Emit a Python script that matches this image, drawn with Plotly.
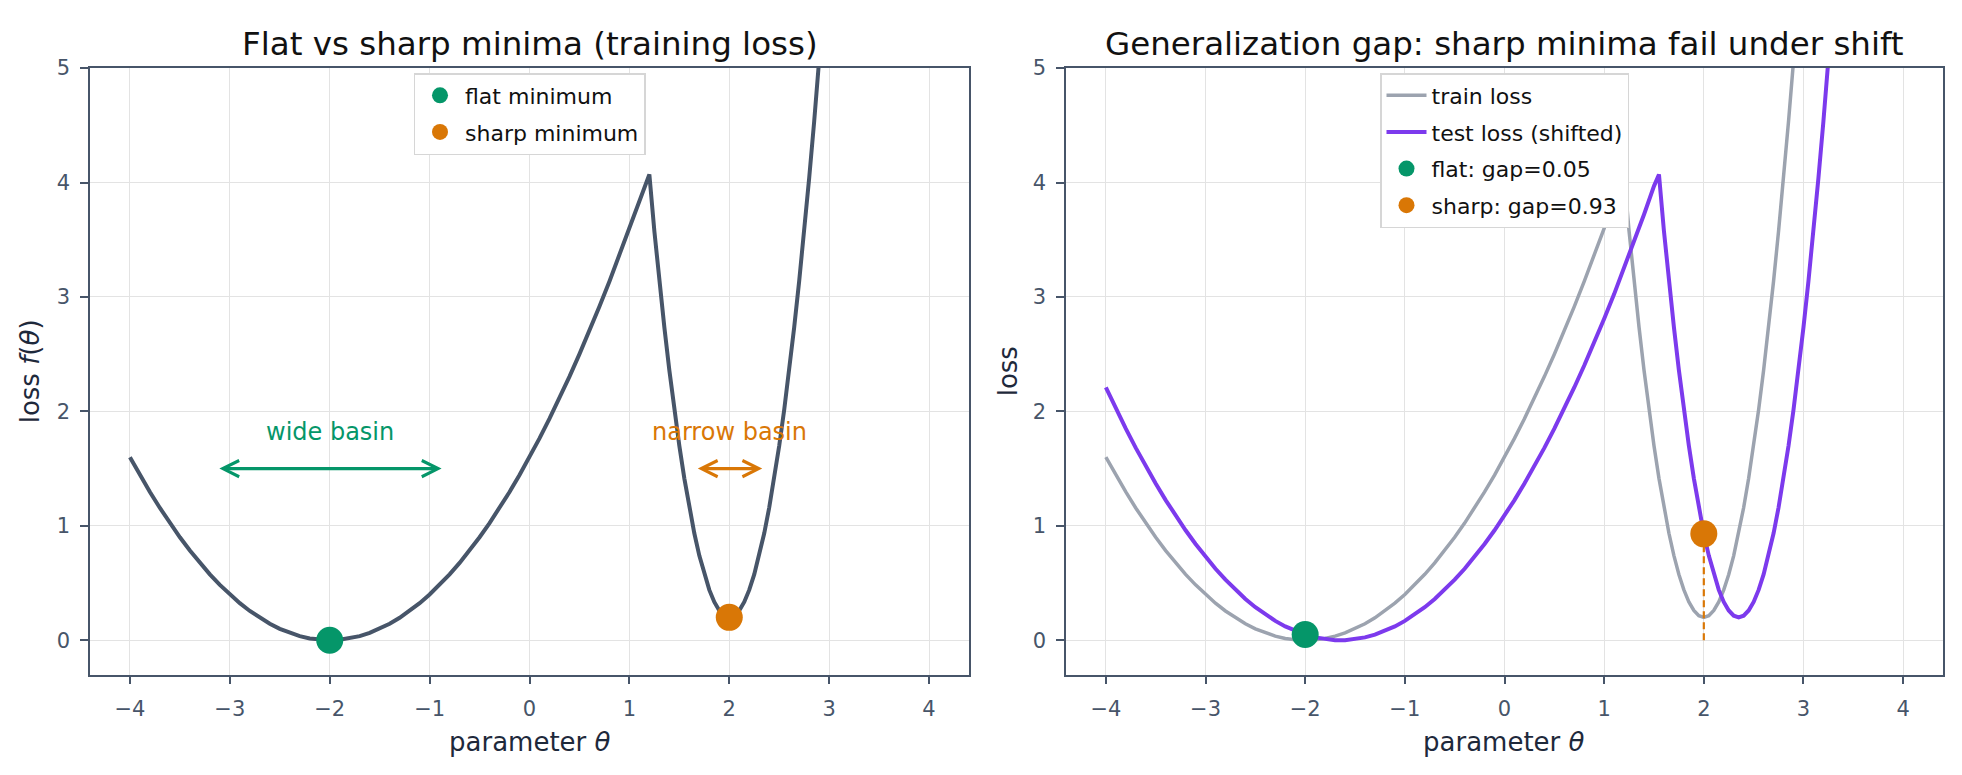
import plotly.graph_objects as go

# ---------------- data ----------------
theta_train = [-4.0, -3.9, -3.8, -3.7, -3.6, -3.5, -3.4, -3.3, -3.2, -3.1,
               -3.0, -2.9, -2.8, -2.7, -2.6, -2.5, -2.4, -2.3, -2.2, -2.1,
               -2.0, -1.9, -1.8, -1.7, -1.6, -1.5, -1.4, -1.3, -1.2, -1.1,
               -1.0, -0.9, -0.8, -0.7, -0.6, -0.5, -0.4, -0.3, -0.2, -0.1,
               0.0, 0.1, 0.2, 0.3, 0.4, 0.5, 0.6, 0.7, 0.8, 0.9, 1.0, 1.1, 1.2,
               1.25, 1.3, 1.35, 1.4, 1.45, 1.5, 1.55, 1.6, 1.65, 1.7, 1.75, 1.8,
               1.85, 1.9, 1.95, 2.0, 2.05, 2.1, 2.15, 2.2, 2.25, 2.3, 2.35, 2.4,
               2.45, 2.5, 2.55, 2.6, 2.65, 2.7, 2.75, 2.8, 2.85, 2.9, 2.95]
loss_train = [1.6, 1.444, 1.296, 1.156, 1.024, 0.9, 0.784, 0.676, 0.576, 0.484,
              0.4, 0.324, 0.256, 0.196, 0.144, 0.1, 0.064, 0.036, 0.016, 0.004,
              0.0, 0.004, 0.016, 0.036, 0.064, 0.1, 0.144, 0.196, 0.256, 0.324,
              0.4, 0.484, 0.576, 0.676, 0.784, 0.9, 1.024, 1.156, 1.296, 1.444,
              1.6, 1.764, 1.936, 2.116, 2.304, 2.5, 2.704, 2.916, 3.136, 3.364, 3.6, 3.844, 4.07,
              3.575, 3.14, 2.735, 2.36, 2.015, 1.7, 1.415, 1.16, 0.935, 0.74, 0.575, 0.44,
              0.335, 0.26, 0.215, 0.2, 0.215, 0.26, 0.335, 0.44, 0.575, 0.74, 0.935, 1.16,
              1.415, 1.7, 2.015, 2.36, 2.735, 3.14, 3.575, 4.04, 4.535, 5.06, 5.615]

theta_test = [-4.0, -3.9, -3.8, -3.7, -3.6, -3.5, -3.4, -3.3, -3.2, -3.1,
              -3.0, -2.9, -2.8, -2.7, -2.6, -2.5, -2.4, -2.3, -2.2, -2.1,
              -2.0, -1.9, -1.8, -1.7, -1.6, -1.5, -1.4, -1.3, -1.2, -1.1,
              -1.0, -0.9, -0.8, -0.7, -0.6, -0.5, -0.4, -0.3, -0.2, -0.1,
              0.0, 0.1, 0.2, 0.3, 0.4, 0.5, 0.6, 0.7, 0.8, 0.9, 1.0, 1.1, 1.2,
              1.3, 1.4, 1.5, 1.55, 1.6, 1.65, 1.7, 1.75, 1.8, 1.85, 1.9, 1.95,
              2.0, 2.05, 2.1, 2.15, 2.2, 2.25, 2.3, 2.35, 2.4, 2.45, 2.5, 2.55,
              2.6, 2.65, 2.7, 2.75, 2.8, 2.85, 2.9, 2.95, 3.0, 3.05, 3.1, 3.15,
              3.2, 3.25, 3.3]
loss_test = [2.209, 2.025, 1.849, 1.681, 1.521, 1.369, 1.225, 1.089, 0.961, 0.841,
             0.729, 0.625, 0.529, 0.441, 0.361, 0.289, 0.225, 0.169, 0.121, 0.081,
             0.049, 0.025, 0.009, 0.001, 0.001, 0.009, 0.025, 0.049, 0.081, 0.121,
             0.169, 0.225, 0.289, 0.361, 0.441, 0.529, 0.625, 0.729, 0.841, 0.961,
             1.089, 1.225, 1.369, 1.521, 1.681, 1.849, 2.025, 2.209, 2.401, 2.601, 2.809, 3.025, 3.249,
             3.481, 3.721, 3.969, 4.07, 3.575, 3.14, 2.735, 2.36, 2.015, 1.7, 1.415, 1.16,
             0.93, 0.74, 0.575, 0.44, 0.335, 0.26, 0.215, 0.2, 0.215, 0.26, 0.335, 0.44,
             0.575, 0.74, 0.935, 1.16, 1.415, 1.7, 2.015, 2.36, 2.735, 3.14, 3.575, 4.04,
             4.535, 5.06, 5.615]

flat_min = (-2.0, 0.0)
sharp_min = (2.0, 0.2)
flat_test = (-2.0, 0.05)
sharp_test = (2.0, 0.93)
wide_span = (-3.12, -0.88)
narrow_span = (1.67, 2.33)
basin_arrow_y = 1.5
basin_label_y = 1.68

x_ticks = [-4, -3, -2, -1, 0, 1, 2, 3, 4]
y_ticks = [0, 1, 2, 3, 4, 5]

titles = ["Flat vs sharp minima (training loss)",
          "Generalization gap: sharp minima fail under shift"]

# ---------------- style ----------------
FONT = "DejaVu Sans"
SLATE = "#475569"
GREEN = "#059669"
ORANGE = "#d97706"
PURPLE = "#7c3aed"
GREY = "#9ca3af"

W, H = 1962, 775
dom1 = [90 / W, 969 / W]
dom2 = [1066 / W, 1943 / W]
ydom = [1 - 673 / H, 1 - 57 / H]

fig = go.Figure()

# left panel
fig.add_trace(go.Scatter(x=theta_train, y=loss_train, mode="lines",
                         line=dict(color=SLATE, width=4), showlegend=False,
                         xaxis="x", yaxis="y"))
fig.add_trace(go.Scatter(x=[flat_min[0]], y=[flat_min[1]], mode="markers",
                         marker=dict(color=GREEN, size=27), name="flat minimum",
                         legend="legend", legendgroup="a", xaxis="x", yaxis="y", cliponaxis=False))
fig.add_trace(go.Scatter(x=[sharp_min[0]], y=[sharp_min[1]], mode="markers",
                         marker=dict(color=ORANGE, size=27), name="sharp minimum",
                         legend="legend", legendgroup="b", xaxis="x", yaxis="y", cliponaxis=False))

# right panel
fig.add_trace(go.Scatter(x=theta_train, y=loss_train, mode="lines",
                         line=dict(color=GREY, width=3.5), name="train loss",
                         legend="legend2", legendgroup="c", xaxis="x2", yaxis="y2"))
fig.add_trace(go.Scatter(x=theta_test, y=loss_test, mode="lines",
                         line=dict(color=PURPLE, width=4), name="test loss (shifted)",
                         legend="legend2", legendgroup="d", xaxis="x2", yaxis="y2"))
fig.add_trace(go.Scatter(x=[sharp_test[0], sharp_test[0]], y=[0, sharp_test[1]], mode="lines",
                         line=dict(color=ORANGE, width=2.2, dash="7px,4px"),
                         showlegend=False, xaxis="x2", yaxis="y2"))
fig.add_trace(go.Scatter(x=[flat_test[0]], y=[flat_test[1]], mode="markers",
                         marker=dict(color=GREEN, size=27),
                         name=f"flat: gap={flat_test[1]:.2f}",
                         legend="legend2", legendgroup="e", xaxis="x2", yaxis="y2", cliponaxis=False))
fig.add_trace(go.Scatter(x=[sharp_test[0]], y=[sharp_test[1]], mode="markers",
                         marker=dict(color=ORANGE, size=27),
                         name=f"sharp: gap={sharp_test[1]:.2f}",
                         legend="legend2", legendgroup="f", xaxis="x2", yaxis="y2", cliponaxis=False))

axis_common = dict(showline=True, linecolor=SLATE, linewidth=1.6, mirror=True,
                   ticks="outside", ticklen=8, tickwidth=1.6, tickcolor=SLATE,
                   showgrid=True, gridcolor="#e3e3e3", gridwidth=1, zeroline=False,
                   tickfont=dict(family=FONT, size=21, color=SLATE),
                   ticklabelstandoff=6)

legend_common = dict(xanchor="center", y=1 - 62 / H, yanchor="top",
                     bgcolor="white", bordercolor="#d6d6d6", borderwidth=1.5,
                     font=dict(family=FONT, size=22, color="#111111"),
                     itemsizing="trace", tracegroupgap=5, itemwidth=40)

fig.update_layout(
    width=W, height=H, margin=dict(l=0, r=0, t=0, b=0),
    paper_bgcolor="white", plot_bgcolor="white",
    font=dict(family=FONT, color="#111111"),
    xaxis=dict(domain=dom1, range=[-4.4, 4.4], tickvals=x_ticks, anchor="y", **axis_common),
    yaxis=dict(domain=ydom, range=[-0.3, 5], tickvals=y_ticks, anchor="x", **axis_common),
    xaxis2=dict(domain=dom2, range=[-4.4, 4.4], tickvals=x_ticks, anchor="y2", **axis_common),
    yaxis2=dict(domain=ydom, range=[-0.3, 5], tickvals=y_ticks, anchor="x2", **axis_common),
    legend=dict(x=(dom1[0] + dom1[1]) / 2, **legend_common),
    legend2=dict(x=(dom2[0] + dom2[1]) / 2, **legend_common),
)

ann = []
# titles
for dom, t in zip([dom1, dom2], titles):
    ann.append(dict(text=t, x=(dom[0] + dom[1]) / 2, y=1 - 32 / H, xref="paper", yref="paper",
                    xanchor="center", yanchor="middle", showarrow=False,
                    font=dict(family=FONT, size=32.5, color="#111111")))
# axis titles
for dom in [dom1, dom2]:
    ann.append(dict(text="parameter <i>θ</i>", x=(dom[0] + dom[1]) / 2, y=1 - 741 / H,
                    xref="paper", yref="paper", xanchor="center", yanchor="middle",
                    showarrow=False, font=dict(family=FONT, size=26, color="#1e293b")))
ann.append(dict(text="loss <i>f</i>(<i>θ</i>)", x=30 / W, y=(ydom[0] + ydom[1]) / 2,
                xref="paper", yref="paper", xanchor="center", yanchor="middle", textangle=-90,
                showarrow=False, font=dict(family=FONT, size=26, color="#1e293b")))
ann.append(dict(text="loss", x=1008 / W, y=(ydom[0] + ydom[1]) / 2,
                xref="paper", yref="paper", xanchor="center", yanchor="middle", textangle=-90,
                showarrow=False, font=dict(family=FONT, size=26, color="#1e293b")))
# basin annotations
for span, label, col in [(wide_span, "wide basin", GREEN), (narrow_span, "narrow basin", ORANGE)]:
    ann.append(dict(x=span[1], y=basin_arrow_y, ax=span[0], ay=basin_arrow_y,
                    xref="x", yref="y", axref="x", ayref="y", text="", showarrow=True,
                    arrowhead=5, startarrowhead=5, arrowside="end+start",
                    arrowwidth=3.2, arrowsize=1, startarrowsize=1, arrowcolor=col))
    ann.append(dict(x=(span[0] + span[1]) / 2, y=basin_label_y, xref="x", yref="y",
                    text=label, showarrow=False, yanchor="bottom",
                    font=dict(family=FONT, size=24, color=col)))

fig.update_layout(annotations=ann)
fig.write_html("out.html")
